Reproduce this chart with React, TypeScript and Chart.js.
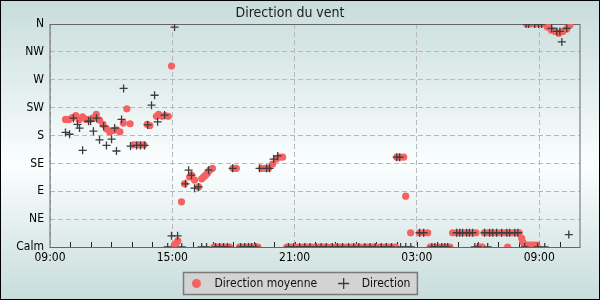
import { useEffect, useRef } from 'react';
import { Chart, registerables } from 'chart.js';

Chart.register(...registerables);

// Hours elapsed since 09:00 on the first day, and direction in degrees (0 = Calm, 360 = N)
const avgTimes = [
  0.76, 0.93, 1.10, 1.27, 1.43, 1.60, 1.77, 1.93, 2.10, 2.27, 2.43, 2.60, 2.77, 2.93, 3.10, 3.27, 3.43,
  3.60, 3.77, 3.93, 4.10, 4.27, 4.43, 4.60, 4.77, 4.90, 5.22, 5.33, 5.50, 5.65, 5.80, 5.96,
  6.10, 6.19, 6.27, 6.45, 6.60, 6.85, 6.94, 7.09, 7.29, 7.44, 7.53, 7.63, 7.73, 7.83, 7.97,
  8.05, 8.20, 8.35, 8.50, 8.65, 8.81, 8.97, 9.14,
  9.30, 9.45, 9.60, 9.75, 9.90, 10.05, 10.20, 10.38, 10.55, 10.72, 10.92, 11.10, 11.26, 11.41,
  11.62, 11.80, 12.00, 12.20, 12.40, 12.60, 12.80, 13.00, 13.20, 13.40, 13.60, 13.80, 14.00, 14.20,
  14.40, 14.60, 14.80, 15.00, 15.20, 15.40, 15.60, 15.80, 16.00, 16.20, 16.40, 16.60, 16.80, 16.95,
  17.01, 17.18, 17.35, 17.45, 17.69, 18.13, 18.33, 18.53,
  18.65, 18.85, 19.05, 19.25, 19.45, 19.62,
  19.75, 19.95, 20.15, 20.35, 20.55, 20.75, 20.90, 21.05, 21.20,
  21.30, 21.50, 21.70, 21.90, 22.10, 22.30, 22.50, 22.70, 22.90, 23.02, 22.45,
  23.14, 23.19, 23.29, 23.43, 23.58, 23.73, 23.88,
  23.38, 23.58, 23.78, 23.97, 24.17, 24.40, 24.60, 24.78, 24.96, 25.15, 25.35, 25.50,
];
const avgDirs = [
  206, 206, 209, 212, 206, 210, 206, 206, 208, 214, 205, 198, 191, 186, 188, 189, 186,
  200, 223, 199, 165, 165, 165, 165, 198, 196, 211, 214, 211, 212, 211, 292,
  3, 6, 10, 73, 102, 113, 116, 108, 97, 110, 113, 116, 119, 124, 127,
  0, 0, 0, 0, 0, 0, 127, 127,
  0, 0, 0, 0, 0, 0, 0, 127, 127, 127, 134, 142, 145, 145,
  0, 0, 0, 0, 0, 0, 0, 0, 0, 0, 0, 0, 0, 0,
  0, 0, 0, 0, 0, 0, 0, 0, 0, 0, 0, 0, 0, 0,
  145, 145, 145, 82, 23, 23, 23, 23,
  0, 0, 0, 0, 0, 0,
  23, 23, 23, 23, 23, 23, 23, 0, 0,
  23, 23, 23, 23, 23, 23, 23, 23, 23, 23, 0,
  14, 8, 3, 3, 3, 3, 3,
  360, 360, 360, 360, 360, 355, 350, 348, 345, 348, 352, 358,
];

const dirTimes = [
  0.76, 0.96, 1.15, 1.35, 1.45, 1.60, 1.89, 1.99, 2.13, 2.28, 2.43, 2.63, 2.77, 3.02, 3.17, 3.26,
  3.51, 3.61, 3.95, 4.25, 4.44, 4.64, 4.79, 4.98, 5.13, 5.28, 5.62, 6.11,
  5.96, 6.26, 5.77, 6.46, 6.65, 6.80, 6.94, 7.09, 7.29, 7.44, 7.68, 7.78,
  8.12, 8.32, 8.51, 8.71, 8.96, 9.35, 9.55, 9.74, 9.89, 10.09,
  10.28, 10.63, 10.77, 10.97, 11.17,
  11.70, 11.95, 12.25, 12.50, 12.75, 13.05, 13.30, 13.55, 13.85, 14.10, 14.35, 14.65, 14.90,
  15.15, 15.45, 15.70, 15.95, 16.25, 16.50, 16.75,
  17.01, 17.15, 17.20, 17.45, 17.70, 18.13, 18.33,
  18.73, 18.88, 19.02, 19.22, 19.37, 19.51,
  19.95, 20.10, 20.24, 20.44, 20.58, 20.73, 20.84, 20.98,
  21.32, 21.57, 21.72, 21.91, 22.16, 22.41, 22.55, 22.80, 22.95, 21.47,
  23.29, 23.92, 24.27,
  23.36, 23.48, 23.78, 23.97, 24.12, 24.61, 24.86, 25.01, 25.35, 25.11, 25.45,
];
const dirValues = [
  185, 182, 208, 198, 192, 156, 203, 203, 187, 208, 173, 195, 164, 174, 192, 155,
  206, 256, 163, 164, 164, 164, 197, 229, 245, 202, 213, 355,
  18, 18, 0, 0, 102, 124, 116, 95, 97, 0, 0, 124,
  0, 0, 0, 0, 127, 0, 0, 0, 0, 0,
  127, 127, 127, 142, 147,
  0, 0, 0, 0, 0, 0, 0, 0, 0, 0, 0, 0, 0,
  0, 0, 0, 0, 0, 0, 0,
  145, 145, 0, 0, 0, 23, 23,
  0, 0, 0, 0, 0, 0,
  23, 23, 23, 23, 23, 23, 0, 0,
  23, 23, 23, 23, 23, 23, 23, 23, 23, 0,
  0, 0, 0,
  360, 360, 360, 360, 360, 353, 348, 348, 353, 331, 20,
];

const xTickValues = [0, 6, 12, 18, 24];
const xTickLabels = ['09:00', '15:00', '21:00', '03:00', '09:00'];
const yTickLabels = ['Calm', 'NE', 'E', 'SE', 'S', 'SW', 'W', 'NW', 'N'];

const FONT = "'DejaVu Sans Condensed', 'DejaVu Sans', sans-serif";
const RED = '#f46262';
const CROSS = '#3c3c3c';

const backgroundPlugin = {
  id: 'bgFrame',
  beforeDraw(chart: any) {
    const { ctx, width, height } = chart;
    ctx.save();
    const g = ctx.createLinearGradient(0, 0, 0, height);
    g.addColorStop(0, '#c7dcdb');
    g.addColorStop(0.55, '#fbfefe');
    g.addColorStop(1, '#c7dcdb');
    ctx.fillStyle = g;
    ctx.fillRect(0, 0, width, height);
    ctx.restore();
  },
  beforeDatasetsDraw(chart: any) {
    const { ctx, chartArea } = chart;
    const xs = chart.scales.x;
    ctx.save();
    ctx.strokeStyle = '#666666';
    ctx.lineWidth = 1;
    ctx.strokeRect(chartArea.left, chartArea.top + 0.5, chartArea.right - chartArea.left, chartArea.bottom - chartArea.top);
    ctx.strokeStyle = '#222222';
    ctx.beginPath();
    for (let h = Math.ceil(xs.min) + 1; h < xs.max; h++) {
      const px = Math.round(xs.getPixelForValue(h)) + 0.5;
      ctx.moveTo(px, chartArea.bottom);
      ctx.lineTo(px, chartArea.bottom - 5);
    }
    ctx.stroke();
    ctx.restore();
  },
  afterDraw(chart: any) {
    const { ctx, width, height } = chart;
    ctx.save();
    // legend box
    ctx.font = `12px ${FONT}`;
    const items = chart.data.datasets.map((d: any) => ({ label: d.label, style: d.pointStyle }));
    const widths = items.map((it: any) => ctx.measureText(it.label).width);
    const padL = 8.5, markerToText = 18, gap = 26.5, padR = 7;
    const total = padL + 4.5 + widths.reduce((a: number, w: number, i: number) => a + markerToText + w + (i > 0 ? gap : 0), 0) + padR;
    const left = Math.round(width / 2 - total / 2) + 0.5;
    const top = 272.5, bh = 22;
    ctx.fillStyle = '#d3d3d3';
    ctx.fillRect(left, top, total, bh);
    ctx.strokeStyle = '#7a7a7a';
    ctx.lineWidth = 1.5;
    ctx.strokeRect(left, top, total, bh);
    let cx = left + padL + 4.5;
    const cy = top + bh / 2;
    items.forEach((it: any, i: number) => {
      if (i > 0) cx += gap;
      if (it.style === 'circle') {
        ctx.fillStyle = RED;
        ctx.beginPath();
        ctx.arc(cx, cy, 4.5, 0, Math.PI * 2);
        ctx.fill();
      } else {
        ctx.strokeStyle = CROSS;
        ctx.lineWidth = 1.3;
        ctx.beginPath();
        ctx.moveTo(cx - 5.5, cy); ctx.lineTo(cx + 5.5, cy);
        ctx.moveTo(cx, cy - 5.5); ctx.lineTo(cx, cy + 5.5);
        ctx.stroke();
      }
      ctx.fillStyle = '#111111';
      ctx.textBaseline = 'middle';
      ctx.textAlign = 'left';
      ctx.fillText(it.label, cx + markerToText, cy + 0.5);
      cx += markerToText + widths[i];
    });
    // outer black border
    ctx.strokeStyle = '#000000';
    ctx.lineWidth = 1;
    ctx.strokeRect(0.5, 0.5, width - 1, height - 1);
    ctx.restore();
  },
};

export default function App() {
  const ref = useRef<HTMLCanvasElement | null>(null);

  useEffect(() => {
    if (!ref.current) return;
    const avgData = avgTimes.map((t, i) => ({ x: t, y: avgDirs[i] }));
    const dirData = dirTimes.map((t, i) => ({ x: t, y: dirValues[i] }));
    const chart = new Chart(ref.current, {
      type: 'scatter',
      data: {
        datasets: [
          {
            label: 'Direction moyenne',
            data: avgData,
            pointStyle: 'circle',
            pointRadius: 3.6,
            pointBackgroundColor: RED,
            pointBorderWidth: 0,
            borderColor: RED,
            backgroundColor: RED,
            order: 1,
          },
          {
            label: 'Direction',
            data: dirData,
            pointStyle: 'cross',
            pointRadius: 4,
            pointBorderColor: CROSS,
            pointBorderWidth: 1.3,
            borderColor: CROSS,
            backgroundColor: CROSS,
            order: 0,
          },
        ],
      },
      options: {
        responsive: false,
        animation: false,
        events: [],
        layout: { padding: { left: 0, right: 20, top: 0, bottom: 33 } },
        plugins: {
          legend: { display: false },
          tooltip: { enabled: false },
          title: {
            display: true,
            text: 'Direction du vent',
            color: '#1c1c1c',
            font: { family: FONT, size: 14, weight: 'normal' },
            padding: { top: 5, bottom: 2.2 },
          },
        },
        scales: {
          x: {
            type: 'linear',
            min: 0,
            max: 26,
            afterFit(scale: any) { scale.height = 20; },
            afterBuildTicks(scale: any) { scale.ticks = xTickValues.map((v) => ({ value: v })); },
            ticks: {
              autoSkip: false,
              maxRotation: 0,
              padding: 4,
              color: '#000000',
              font: { family: FONT, size: 12 },
              callback: (v: any) => {
                const i = xTickValues.indexOf(Number(v));
                return i >= 0 ? xTickLabels[i] : '';
              },
            },
            grid: { color: '#b8b8b8', lineWidth: 1, drawTicks: false },
            border: { display: false, dash: [5, 3] },
          },
          y: {
            min: 0,
            max: 360,
            afterFit(scale: any) { scale.width = 50; },
            ticks: {
              stepSize: 45,
              padding: 6,
              color: '#000000',
              font: { family: FONT, size: 12 },
              callback: (v: any) => yTickLabels[Math.round(Number(v) / 45)] ?? '',
            },
            grid: { color: '#b8b8b8', lineWidth: 1, drawTicks: false },
            border: { display: false, dash: [5, 3] },
          },
        },
      },
      plugins: [backgroundPlugin],
    });
    return () => chart.destroy();
  }, []);

  return (
    <canvas
      ref={ref}
      width={600}
      height={300}
      style={{ position: 'absolute', left: 0, top: 0, width: 600, height: 300 }}
    />
  );
}
